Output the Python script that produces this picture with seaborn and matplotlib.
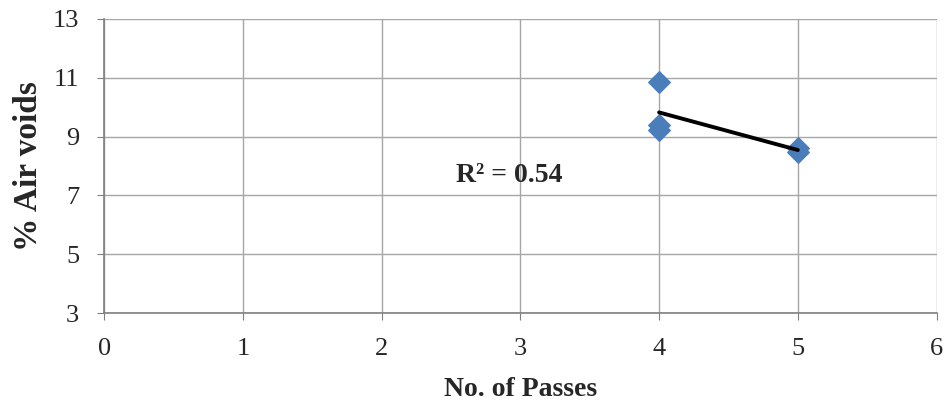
import numpy as np
import pandas as pd
import seaborn as sns
import matplotlib
matplotlib.use("Agg")
import matplotlib.pyplot as plt

# data
passes = [4, 4, 4, 5, 5]
air_voids = [10.86, 9.39, 9.22, 8.61, 8.48]
r2_label = "R² = 0.54"

df = pd.DataFrame({"No. of Passes": passes, "% Air voids": air_voids})

sns.set_style("white")
plt.rcParams["font.family"] = ["Liberation Serif", "DejaVu Serif"]

fig = plt.figure(figsize=(9.47, 4.04), dpi=100)
ax = fig.add_axes([0.110, 0.225, 0.879, 0.728])

sns.regplot(data=df, x="No. of Passes", y="% Air voids", ax=ax, ci=None,
            marker="D",
            scatter_kws={"s": 120, "color": "#4A7EBB", "edgecolor": "#4A7EBB",
                         "zorder": 3, "alpha": 1},
            line_kws={"color": "black", "linewidth": 2.8, "zorder": 4})

ax.set_xlim(0, 6)
ax.set_ylim(3, 13)
ax.set_xticks(range(0, 7))
ax.set_yticks([3, 5, 7, 9, 11, 13])
ax.grid(True, color="#A6A6A6", linewidth=1)
ax.set_axisbelow(True)

for s in ["top", "right"]:
    ax.spines[s].set_visible(False)
for s in ["left", "bottom"]:
    ax.spines[s].set_color("#7F7F7F")
    ax.spines[s].set_linewidth(1.2)

ax.tick_params(axis="both", labelsize=19, length=5, color="#7F7F7F",
               direction="out", left=True, bottom=True)
ax.tick_params(axis="y", pad=13)
ax.tick_params(axis="x", pad=13)

ax.set_xlabel("No. of Passes", fontsize=20, fontweight="bold", labelpad=12)
ax.set_ylabel("% Air voids", fontsize=24, fontweight="bold", labelpad=6)

ax.text(2.92, 7.69, r2_label, fontsize=20, fontweight="bold",
        ha="center", va="center")

fig.savefig("out.png", dpi=100)
